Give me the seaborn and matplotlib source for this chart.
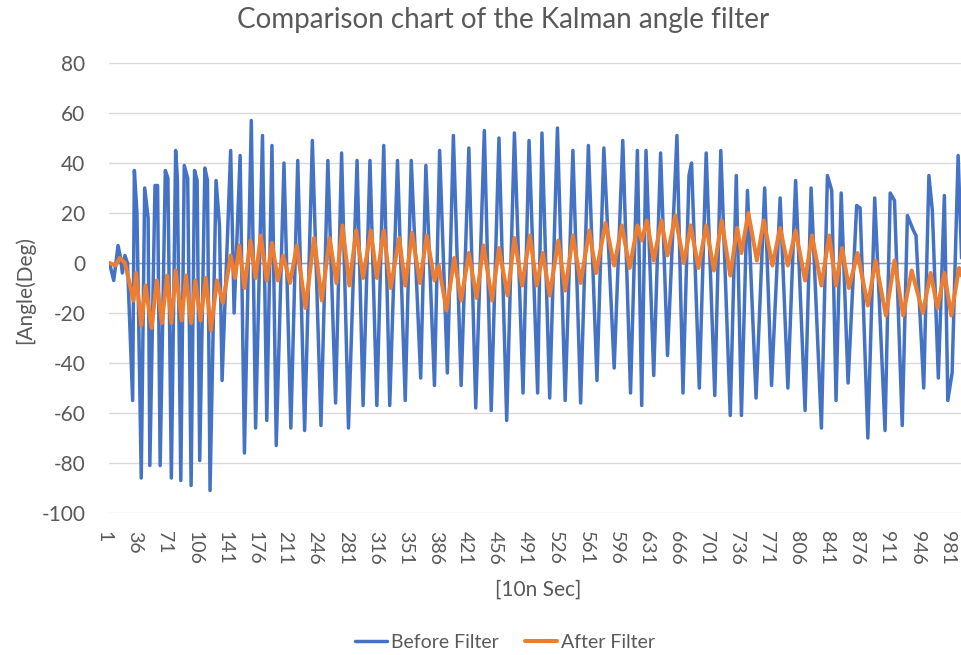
import matplotlib
matplotlib.use("Agg")
import matplotlib.pyplot as plt
import matplotlib.transforms as mtransforms
import seaborn as sns
import pandas as pd
from matplotlib.lines import Line2D

# ---- data (sample index, angle in degrees) ----
before_idx = [1, 6, 11, 14, 16, 19, 22, 28, 30, 33, 38, 42, 46, 48, 54, 57, 60, 66, 69, 73,
              78, 80, 84, 88, 92, 96, 100, 103, 106, 112, 115, 118, 125, 129, 132, 142, 146,
              153, 158, 166, 171, 179, 184, 190, 195, 204, 212, 220, 228, 237, 247, 255, 264,
              271, 279, 289, 296, 304, 312, 320, 327, 336, 345, 352, 363, 369, 379, 385, 394,
              401, 410, 419, 427, 437, 445, 454, 463, 472, 482, 489, 499, 504, 513, 522, 531,
              540, 549, 558, 568, 576, 588, 598, 607, 615, 620, 625, 634, 642, 650, 661, 668,
              675, 678, 687, 695, 705, 712, 723, 730, 736, 743, 753, 763, 771, 781, 790, 799,
              810, 817, 829, 836, 841, 846, 852, 860, 870, 874, 883, 891, 903, 909, 914, 923,
              929, 936, 939, 948, 954, 958, 965, 972, 976, 981, 988, 992]
before_val = [0, -7, 7, 2, -4, 3, 0, -55, 37, 20, -86, 30, 18, -81, 31, 31, -81, 37, 34, -86,
              45, 34, -87, 39, 34, -89, 37, 33, -79, 38, 33, -91, 33, 15, -47, 45, -20,
              43, -76, 57, -66, 51, -63, 47, -73, 40, -66, 41, -67, 49, -65, 41, -56,
              44, -66, 41, -57, 41, -57, 47, -57, 41, -55, 41, -46, 39, -49, 45, -44,
              51, -49, 46, -58, 53, -59, 50, -63, 52, -52, 49, -52, 52, -54, 54, -55,
              45, -56, 47, -47, 46, -42, 49, -52, 45, -57, 45, -45, 44, -37, 51, -52,
              35, 40, -50, 44, -53, 45, -61, 35, -61, 29, -54, 30, -49, 26, -50, 33,
              -59, 30, -66, 35, 29, -55, 28, -48, 23, 22, -70, 26, -67, 28, 25, -65,
              19, 13, 11, -50, 35, 21, -46, 27, -55, -44, 43, 2]

after_idx = [1, 8, 13, 19, 29, 32, 38, 43, 50, 56, 62, 68, 73, 78, 85, 90, 96, 101, 107, 113,
             119, 126, 133, 142, 147, 152, 158, 165, 171, 177, 184, 190, 197, 203, 211, 219,
             229, 239, 248, 257, 265, 272, 280, 288, 296, 305, 312, 320, 328, 338, 345, 353,
             362, 370, 379, 384, 393, 402, 410, 419, 428, 436, 446, 454, 464, 472, 481, 490,
             498, 505, 513, 523, 531, 540, 549, 559, 567, 578, 588, 597, 606, 615, 620, 626,
             634, 643, 650, 659, 669, 677, 686, 695, 704, 713, 723, 731, 736, 744, 754, 762,
             772, 781, 790, 799, 810, 818, 829, 838, 846, 853, 861, 871, 883, 892, 904, 914,
             924, 934, 947, 956, 964, 972, 980, 989, 992]
after_val = [0, -1, 2, 0, -15, -4, -25, -9, -26, -7, -24, -5, -24, -3, -23, -5, -24, -7, -23, -6,
             -27, -7, -16, 3, -6, 7, -10, 9, -6, 11, -7, 8, -7, 3, -8, 7,
             -18, 10, -15, 10, -8, 15, -9, 13, -6, 13, -6, 13, -10, 10, -9, 12,
             -8, 11, -7, -1, -19, 2, -15, 4, -14, 7, -15, 6, -13, 10, -9, 11,
             -9, 4, -13, 9, -11, 11, -8, 13, -4, 16, -1, 15, -2, 15, 9, 17,
             1, 17, 3, 19, 0, 15, -2, 15, -3, 17, -5, 14, 4, 20, 1, 17,
             -1, 14, -1, 13, -7, 11, -9, 11, -9, 6, -10, 4, -17, 1, -21, 1,
             -21, -3, -20, -4, -18, -4, -21, -2, -5]

x_ticks = list(range(1, 982, 35))
y_ticks = list(range(-100, 81, 20))
series_names = ["Before Filter", "After Filter"]
colors = ["#4472C4", "#ED7D31"]
title = "Comparison chart of the Kalman angle filter"
x_label = "[10n Sec]"
y_label = "[Angle(Deg)"

# ---- plotting ----
sns.set_theme(style="white")
plt.rcParams["font.family"] = ["Lato", "DejaVu Sans"]
plt.rcParams["axes.unicode_minus"] = False
text_color = "#595959"

fig = plt.figure(figsize=(9.62, 6.55), dpi=100)
ax = fig.add_axes([109 / 962, 1 - 513 / 655, (962 - 109) / 962, (513 - 63) / 655])

df_b = pd.DataFrame({"n": before_idx, "v": before_val})
df_a = pd.DataFrame({"n": after_idx, "v": after_val})

ax.axhline(0, color="#7F9BD3", lw=1.0, zorder=1)
sns.lineplot(data=df_b, x="n", y="v", ax=ax, color=colors[0], lw=2.5,
             estimator=None, sort=False, zorder=3,
             solid_joinstyle="round", solid_capstyle="round")
sns.lineplot(data=df_a, x="n", y="v", ax=ax, color=colors[1], lw=2.9,
             estimator=None, sort=False, zorder=4,
             solid_joinstyle="round", solid_capstyle="round")

ax.set_xlim(0.5, 992.5)
ax.set_ylim(-100, 80)
ax.set_yticks(y_ticks)
ax.set_xticks(x_ticks)
ax.set_xticklabels([str(t) for t in x_ticks], rotation=270)
ax.yaxis.grid(True, color="#D9D9D9", lw=1.0, zorder=0)
ax.xaxis.grid(False)
ax.set_axisbelow(True)
for s in ax.spines.values():
    s.set_visible(False)
ax.tick_params(axis="y", length=0, pad=17, labelsize=15, labelcolor=text_color)
ax.tick_params(axis="x", length=0, pad=13, labelsize=14, labelcolor=text_color)
ax.set_xlabel("")
ax.set_ylabel("")

offset = mtransforms.ScaledTranslation(-5 / 100, 0, fig.dpi_scale_trans)
for tick in ax.xaxis.get_major_ticks():
    tick.label1.set_transform(tick.label1.get_transform() + offset)

fig.text(503 / 962, 1 - 20 / 655, title, ha="center", va="center",
         fontsize=20, color=text_color)
fig.text(538 / 962, 1 - 590 / 655, x_label, ha="center", va="center",
         fontsize=15, color=text_color)
fig.text(25 / 962, 1 - 290 / 655, y_label, ha="center", va="center",
         rotation=90, fontsize=15, color=text_color)

handles = [Line2D([0], [0], color=colors[0], lw=2.5),
           Line2D([0], [0], color=colors[1], lw=2.9)]
fig.legend(handles, series_names, loc="center", bbox_to_anchor=(505 / 962, 1 - 642 / 655),
           ncol=2, frameon=False, fontsize=14, handlelength=1.65, handletextpad=0.25,
           columnspacing=1.3, labelcolor=text_color)

fig.savefig("out.png", dpi=100)
